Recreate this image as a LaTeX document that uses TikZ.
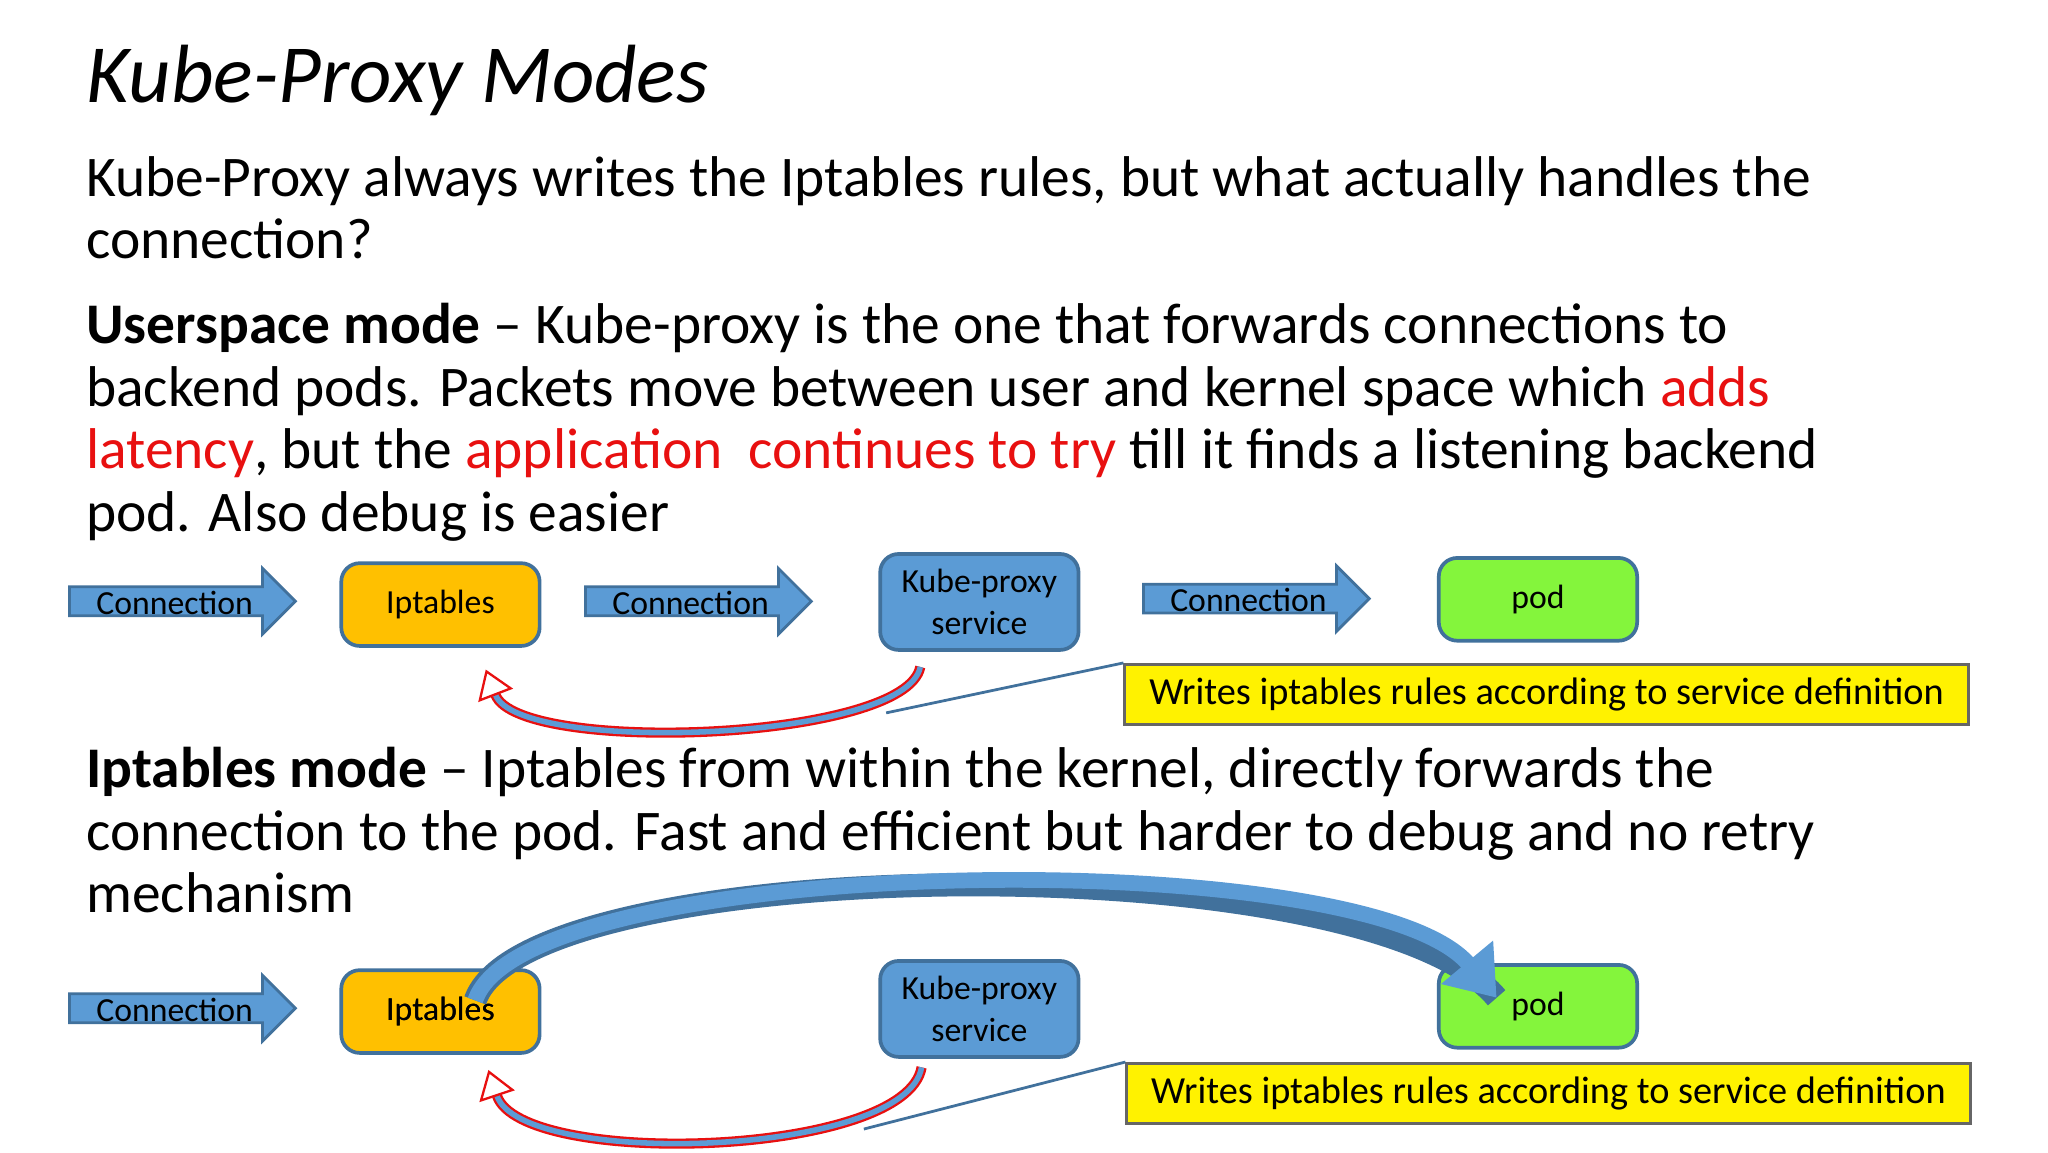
\documentclass[tikz,border=0pt]{standalone}
\usepackage{fontspec}
\setmainfont{Carlito}
\usetikzlibrary{arrows.meta}
\definecolor{tblue}{HTML}{5B9BD5}
\definecolor{tbluedk}{HTML}{41719C}
\definecolor{torange}{HTML}{FFC000}
\definecolor{tgreen}{HTML}{84F53C}
\definecolor{tred}{HTML}{E81010}
\begin{document}
\begin{tikzpicture}[x=0.01cm,y=-0.01cm,
  body/.style={anchor=base west,inner sep=0pt,font=\fontsize{12.45pt}{14pt}\selectfont},
  box/.style={draw=tbluedk,line width=0.8pt,rounded corners=4pt,minimum width=1.51cm,minimum height=0.63cm,font=\fontsize{7.3pt}{9pt}\selectfont,align=center},
  arrlbl/.style={inner sep=0pt,font=\fontsize{7.3pt}{8pt}\selectfont},
  note/.style={draw=black!60,fill=yellow,line width=0.6pt,minimum width=6.42cm,minimum height=0.46cm,inner sep=0pt,font=\fontsize{8.3pt}{9pt}\selectfont},
  redarc/.style={draw=tred,double=tblue,double distance=1.2pt,line width=0.5pt,-{Triangle[open,length=6pt,width=8pt]}}]
\useasboundingbox (0,0) rectangle (1560,877.5);
\fill[white] (0,0) rectangle (1560,877.5);
\newcommand{\connarrow}[3]{%
  \filldraw[fill=tblue,draw=tbluedk,line width=0.6pt] (#1,#2-11) -- (#1+147,#2-11) -- (#1+147,#2-25) -- (#1+172,#2) -- (#1+147,#2+25) -- (#1+147,#2+11) -- (#1,#2+11) -- cycle;
  \node[arrlbl] (#3) at (#1+80,#2+1) {Connection};}
% title and text
\node[anchor=base west,inner sep=0pt,font=\fontsize{17.9pt}{20pt}\itshape\selectfont] (title) at (65,78) {Kube-Proxy Modes};
\node[body] (p1a) at (65,150) {Kube-Proxy always writes the Iptables rules, but what actually handles the};
\node[body] (p1b) at (65,197) {connection?};
\node[body] (p2a) at (65,262) {\textbf{Userspace mode} -- Kube-proxy is the one that forwards connections to};
\node[body] (p2b) at (65,310) {backend pods. Packets move between user and kernel space which \textcolor{tred}{adds}};
\node[body] (p2c) at (65,357) {\textcolor{tred}{latency}, but the \textcolor{tred}{application\ \ continues to try} till it finds a listening backend};
\node[body] (p2d) at (65,405) {pod. Also debug is easier};
\node[body] (p3a) at (65,600) {\textbf{Iptables mode} -- Iptables from within the kernel, directly forwards the};
\node[body] (p3b) at (65,648) {connection to the pod. Fast and efficient but harder to debug and no retry};
\node[body] (p3c) at (65,695) {mechanism};
% row 1
\connarrow{53}{458}{c1}
\node[box,fill=torange] (ipt1) at (335.5,460.5) {Iptables};
\connarrow{446}{458}{c2}
\node[box,fill=tblue] (kp1) at (746,458.5) {Kube-proxy\\service};
\connarrow{871}{456}{c3}
\node[box,fill=tgreen] (pod1) at (1171.5,456.5) {pod};
\node[note] (n1) at (1178,529) {Writes iptables rules according to service definition};
\coordinate (k1) at (701,508);
\coordinate (i1) at (370,510);
\draw[redarc] (k1) .. controls (690,565) and (395,575) .. (i1);
\draw[tbluedk,line width=0.6pt] (n1.north west) -- (675,543);
% row 2
\connarrow{53}{768}{c4}
\node[box,fill=torange] (ipt2) at (335.5,770.5) {Iptables};
\node[box,fill=tblue] (kp2) at (746,768.5) {Kube-proxy\\service};
\node[box,fill=tgreen] (pod2) at (1171.5,766.5) {pod};
\node[note] (n2) at (1179.5,833) {Writes iptables rules according to service definition};
\coordinate (k2) at (702,813);
\coordinate (i2) at (372,815);
\draw[redarc] (k2) .. controls (690,882) and (397,890) .. (i2);
\draw[tbluedk,line width=0.6pt] (n2.north west) -- (658,860);
\coordinate (bs) at (362,762);
\coordinate (be) at (1140,760);
\draw[tbluedk,line width=5pt] (bs) .. controls (400,650) and (1040,640) .. (be);
\draw[tblue,line width=3.4pt,-{Triangle[length=10pt,width=14pt]}] (bs) .. controls (400,650) and (1040,640) .. (be);
\node[box,draw=none,fill=none] at (335.5,770.5) {Iptables};
\end{tikzpicture}
\end{document}
